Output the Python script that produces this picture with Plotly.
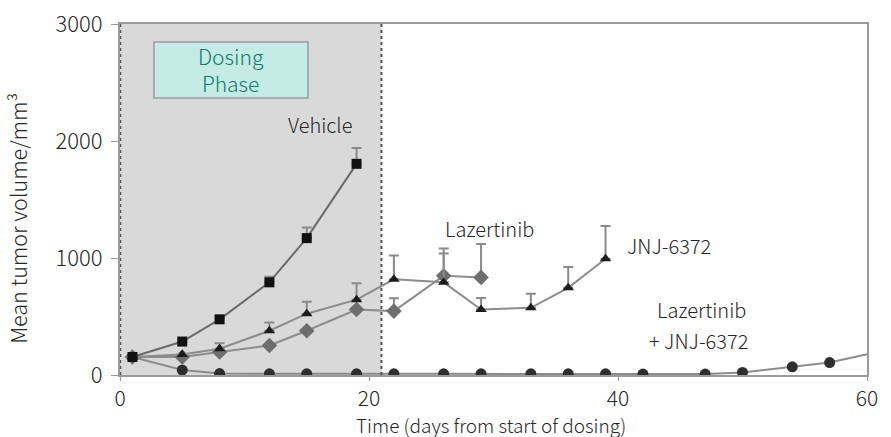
import plotly.graph_objects as go

# ---- data ----
vehicle_days = [1, 5, 8, 12, 15, 19]
vehicle_vals = [154, 286, 476, 792, 1170, 1805]
vehicle_err = [0, 15, 20, 48, 90, 135]

jnj_days = [1, 5, 8, 12, 15, 19, 22, 26, 29, 33, 36, 39]
jnj_vals = [154, 175, 224, 378, 524, 644, 818, 792, 560, 574, 745, 994]
jnj_err = [0, 0, 48, 70, 103, 140, 204, 247, 98, 120, 179, 280]

laz_days = [1, 5, 8, 12, 15, 19, 22, 26, 29]
laz_vals = [154, 154, 196, 252, 378, 560, 546, 848, 834]
laz_err = [0, 0, 0, 0, 0, 0, 110, 233, 286]

combo_days = [1, 5, 8, 12, 15, 19, 22, 26, 29, 33, 36, 39, 42, 47, 50, 54, 57, 61]
combo_vals = [154, 42, 12, 10, 10, 10, 10, 10, 10, 10, 10, 10, 8, 8, 22, 70, 106, 200]

x_ticks = [0, 20, 40, 60]
y_ticks = [0, 1000, 2000, 3000]

FONT = "Noto Sans CJK JP"
TXT = "#262626"
ERRC = "#8a8a8a"
LINEC = "#8c8c8c"

fig = go.Figure()

def err(arr):
    return dict(type="data", symmetric=False, array=arr, arrayminus=[0] * len(arr),
                color=ERRC, thickness=2, width=5)

fig.add_trace(go.Scatter(x=combo_days, y=combo_vals, mode="lines+markers",
                         line=dict(color=LINEC, width=2),
                         marker=dict(symbol="circle", size=11, color="#2e2e2e"),
                         showlegend=False))
fig.add_trace(go.Scatter(x=laz_days, y=laz_vals, mode="lines+markers",
                         line=dict(color=LINEC, width=2),
                         marker=dict(symbol="diamond", size=12, color="#6e6e6e"),
                         error_y=err(laz_err), showlegend=False))
fig.add_trace(go.Scatter(x=jnj_days, y=jnj_vals, mode="lines+markers",
                         line=dict(color=LINEC, width=2),
                         marker=dict(symbol="triangle-up", size=10, color="#1c1c1c"),
                         error_y=err(jnj_err), showlegend=False))
fig.add_trace(go.Scatter(x=vehicle_days, y=vehicle_vals, mode="lines+markers",
                         line=dict(color="#6a6a6a", width=2),
                         marker=dict(symbol="square", size=10, color="#111111"),
                         error_y=err(vehicle_err), showlegend=False))

shapes = [
    dict(type="rect", xref="x", yref="y", x0=0, x1=21, y0=0, y1=3000,
         fillcolor="#d9d9d9", line=dict(width=0), layer="below"),
    dict(type="line", xref="x", yref="y", x0=21, x1=21, y0=0, y1=3000,
         line=dict(color="#555555", width=2, dash="dot")),
    dict(type="line", xref="x", yref="y", x0=0, x1=0, y0=0, y1=3000,
         line=dict(color="#555555", width=2.5, dash="dot")),
    dict(type="rect", xref="x", yref="y", x0=2.73, x1=15.1, y0=2368, y1=2846,
         fillcolor="#c5ebe6", line=dict(color="#9a9a9a", width=1.5)),
]

ann_font = dict(family=FONT, size=20, color=TXT, weight=300)

annotations = [
    dict(x=8.9, y=2607, xref="x", yref="y", text="Dosing<br>Phase", showarrow=False,
         font=dict(family=FONT, size=21, color="#0b7a68", weight=300), align="center"),
    dict(x=16.06, y=2137, xref="x", yref="y", text="Vehicle", showarrow=False, font=ann_font),
    dict(x=29.7, y=1256, xref="x", yref="y", text="Lazertinib", showarrow=False, font=ann_font),
    dict(x=44.1, y=1103, xref="x", yref="y", text="JNJ-6372", showarrow=False, font=ann_font),
    dict(x=46.7, y=556, xref="x", yref="y", text="Lazertinib", showarrow=False, font=ann_font),
    dict(x=46.5, y=299, xref="x", yref="y", text="+ JNJ-6372", showarrow=False, font=ann_font),
    dict(x=-102 / 747, y=0.445, xref="paper", yref="paper", text="Mean tumor volume/mm³",
         showarrow=False, textangle=-90, xanchor="center", yanchor="middle",
         font=dict(family=FONT, size=21.5, color=TXT, weight=300)),
    dict(x=0.497, y=-49 / 351, xref="paper", yref="paper",
         text="Time (days from start of dosing)", showarrow=False,
         xanchor="center", yanchor="middle",
         font=dict(family=FONT, size=19, color=TXT, weight=300)),
]

fig.update_layout(
    width=891, height=437,
    margin=dict(l=120, r=24, t=24, b=62, autoexpand=False),
    paper_bgcolor="white", plot_bgcolor="white",
    font=dict(family=FONT, size=22, color=TXT, weight=300),
    shapes=shapes, annotations=annotations,
    xaxis=dict(range=[0, 60], tickvals=x_ticks, ticktext=[str(v) for v in x_ticks],
               automargin=False,
               showgrid=False, zeroline=False, showline=True, mirror=True,
               linecolor="#9a9a9a", linewidth=2, ticks="outside", ticklen=4,
               tickcolor="#9a9a9a", tickfont=dict(size=21, weight=300),
               ticklabelstandoff=0),
    yaxis=dict(range=[0, 3000], tickvals=y_ticks, ticktext=[str(v) for v in y_ticks],
               automargin=False,
               showgrid=False, zeroline=False, showline=True, mirror=True,
               linecolor="#9a9a9a", linewidth=2, ticks="outside", ticklen=7,
               tickcolor="#9a9a9a", tickfont=dict(size=22, weight=300),
               ticklabelstandoff=4),
)

fig.write_html("out.html", config={"displayModeBar": False},
               post_script="document.body.style.margin='0';document.body.style.padding='0';")
